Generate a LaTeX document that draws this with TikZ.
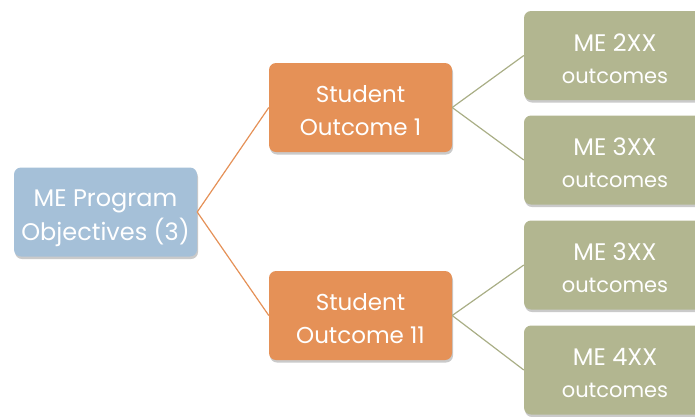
\documentclass[tikz,border=0pt]{standalone}
\usepackage{fontspec}
\setmainfont{Poppins}
\usetikzlibrary{shadows}
\definecolor{bluebox}{HTML}{A5C0D8}
\definecolor{orangebox}{HTML}{E59157}
\definecolor{greenbox}{HTML}{B2B690}
\definecolor{greenline}{HTML}{A9AE86}
\tikzset{
  box/.style={rounded corners=7pt, inner sep=0pt,
    minimum width=183pt, minimum height=89pt,
    drop shadow={shadow xshift=1pt, shadow yshift=-2.5pt, opacity=0.35, fill=black!60}},
  txt/.style={text=white, align=center, inner sep=0pt},
  bluestyle/.style={box, fill=bluebox},
  orangestyle/.style={box, fill=orangebox},
  greenstyle/.style={box, fill=greenbox, minimum width=182pt},
  bluetxt/.style={txt, font=\fontsize{24}{34}\selectfont, yshift=-6pt},
  orangetxt/.style={txt, font=\fontsize{23}{33}\selectfont, yshift=-3.5pt},
  greentxt/.style={txt, font=\fontsize{21}{32}\selectfont, yshift=-3pt},
  oline/.style={draw=orangebox, line width=1.2pt},
  gline/.style={draw=greenline, line width=1.2pt}
}
\newcommand{\bigME}[1]{{\fontsize{24}{32}\selectfont #1}}
\begin{document}
\begin{tikzpicture}[x=1pt,y=-1pt]
\useasboundingbox (0,0) rectangle (695,416);
\begin{scope}
\clip (0,0) rectangle (695,416);
\node[bluestyle, label={[bluetxt]center:ME Program\\Objectives (3)}] (obj) at (105.5,212) {};
\node[orangestyle, label={[orangetxt]center:Student\\Outcome 1}] (so1) at (360.5,107.5) {};
\node[orangestyle, label={[orangetxt]center:Student\\Outcome 11}] (so11) at (360.5,315.5) {};
\node[greenstyle, label={[greentxt]center:\bigME{ME 2XX}\\outcomes}] (g1) at (615,55.5) {};
\node[greenstyle, label={[greentxt]center:\bigME{ME 3XX}\\outcomes}] (g2) at (615,160) {};
\node[greenstyle, label={[greentxt]center:\bigME{ME 3XX}\\outcomes}] (g3) at (615,265) {};
\node[greenstyle, label={[greentxt]center:\bigME{ME 4XX}\\outcomes}] (g4) at (615,370) {};
\draw[oline] (obj.east) -- (so1.west);
\draw[oline] (obj.east) -- (so11.west);
\draw[gline] (so1.east) -- (g1.west);
\draw[gline] (so1.east) -- (g2.west);
\draw[gline] (so11.east) -- (g3.west);
\draw[gline] (so11.east) -- (g4.west);
\end{scope}
\end{tikzpicture}
\end{document}
